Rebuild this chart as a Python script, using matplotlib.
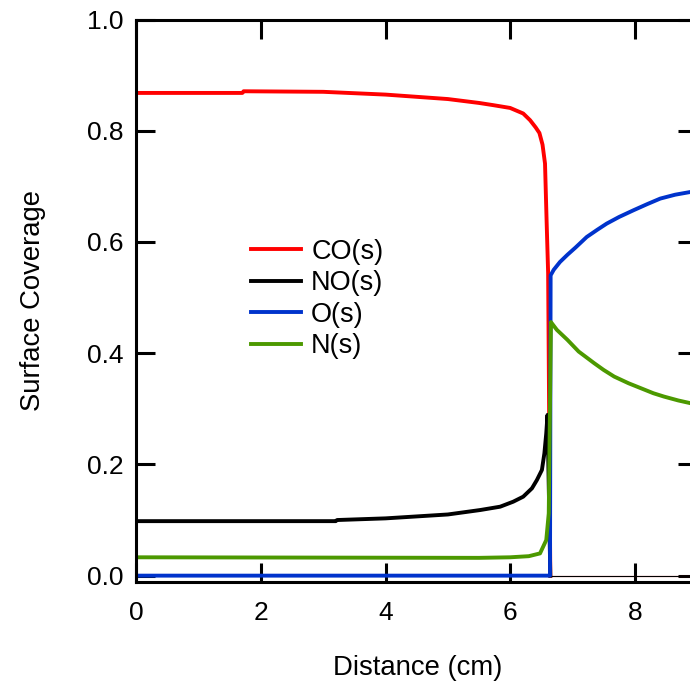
import matplotlib.pyplot as plt
import numpy as np

plt.rcParams["font.family"] = ["Liberation Sans", "DejaVu Sans"]

# surface coverage along the channel
co_x = [0, 1.70, 1.72, 3.0, 4.0, 5.0, 5.5, 5.73, 6.0, 6.21, 6.32, 6.41, 6.47, 6.52, 6.56, 6.585, 6.61, 6.645, 9.0]
co_y = [0.868, 0.868, 0.871, 0.870, 0.865, 0.857, 0.850, 0.846, 0.841, 0.831, 0.819, 0.806, 0.796, 0.775, 0.741, 0.64, 0.544, 0.0, 0.0]

no_x = [0, 3.20, 3.22, 4.0, 5.0, 5.52, 5.84, 6.05, 6.21, 6.35, 6.43, 6.51, 6.55, 6.58, 6.60, 6.645, 9.0]
no_y = [0.098, 0.098, 0.100, 0.103, 0.110, 0.118, 0.124, 0.133, 0.142, 0.157, 0.172, 0.190, 0.220, 0.256, 0.289, 0.0, 0.0]

o_x = [0, 6.64, 6.65, 6.70, 6.80, 6.92, 7.05, 7.23, 7.40, 7.55, 7.75, 7.98, 8.20, 8.41, 8.65, 8.90, 9.0]
o_y = [0.0, 0.0, 0.540, 0.550, 0.564, 0.577, 0.590, 0.609, 0.622, 0.633, 0.645, 0.657, 0.668, 0.678, 0.685, 0.690, 0.692]

n_x = [0, 5.5, 6.0, 6.30, 6.48, 6.58, 6.62, 6.655, 6.75, 6.92, 7.10, 7.35, 7.50, 7.67, 7.90, 8.10, 8.30, 8.47, 8.70, 8.90, 9.0]
n_y = [0.033, 0.032, 0.033, 0.035, 0.040, 0.064, 0.112, 0.456, 0.442, 0.424, 0.403, 0.382, 0.370, 0.358, 0.346, 0.337, 0.328, 0.322, 0.315, 0.310, 0.307]

labels = ["CO(s)", "NO(s)", "O(s)", "N(s)"]
colors = ["#ff0000", "#000000", "#0033cc", "#4c9900"]

fig = plt.figure(figsize=(6.9, 6.85), dpi=100)
ax = fig.add_axes([0.1978, 0.1499, 0.8123, 0.8216])

x_switch = 6.645  # after light-off CO/NO sit on zero as a hairline
for xs, ys, lab, col in zip([co_x, no_x, o_x, n_x], [co_y, no_y, o_y, n_y], labels, colors):
    xs = np.array(xs)
    ys = np.array(ys)
    if lab in ("CO(s)", "NO(s)"):
        m = xs <= x_switch
        ax.plot(xs[m], ys[m], color=col, lw=2.8, label=lab)
        t = xs >= x_switch
        ax.plot(xs[t], ys[t], color=col, lw=0.8)
    else:
        ax.plot(xs, ys, color=col, lw=2.8, label=lab)

ax.set_xlim(0, 9)
ax.set_ylim(-0.012, 1.0)
ax.set_xticks([0, 2, 4, 6, 8])
ax.set_yticks([0.0, 0.2, 0.4, 0.6, 0.8, 1.0])
ax.set_yticklabels(["0.0", "0.2", "0.4", "0.6", "0.8", "1.0"])

for s in ax.spines.values():
    s.set_linewidth(2.2)
ax.tick_params(direction="in", length=13.7, width=2.2, top=True, right=True, labelsize=19)
ax.tick_params(axis="y", pad=9.5)
ax.tick_params(axis="x", pad=13.5)

ax.set_xlabel("Distance (cm)", fontsize=19.8, va="center")
ax.xaxis.set_label_coords(0.502, -0.1523)
ax.set_ylabel("Surface Coverage", fontsize=19.8, va="center")
ax.yaxis.set_label_coords(-0.1855, 0.5)

ax.legend(loc="center left", bbox_to_anchor=(0.204, 0.5034), frameon=False,
          fontsize=19.5, borderpad=0, borderaxespad=0, handlelength=1.85,
          handletextpad=0.38, labelspacing=0.2)

fig.savefig("out.png", dpi=100)
plt.close()
